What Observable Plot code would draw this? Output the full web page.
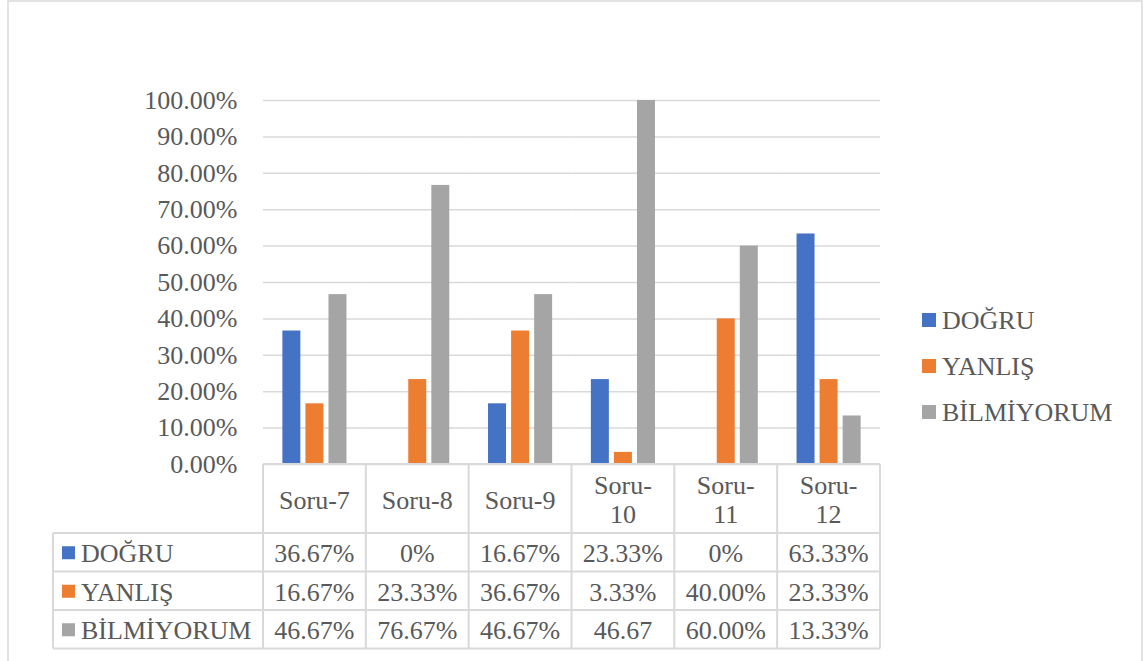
<!DOCTYPE html>
<html><head><meta charset="utf-8">
<script src="https://cdn.jsdelivr.net/npm/d3@7"></script>
<script src="https://cdn.jsdelivr.net/npm/@observablehq/plot@0.6"></script>
<style>body{margin:0;background:#fff;}</style>
</head><body><div id="chart"></div>
<script>
const categories = ["Soru-7","Soru-8","Soru-9","Soru-10","Soru-11","Soru-12"];
const headerLines = [["Soru-7"],["Soru-8"],["Soru-9"],["Soru-","10"],["Soru-","11"],["Soru-","12"]];
const series = ["DOĞRU","YANLIŞ","BİLMİYORUM"];
const colors = ["#4472C4","#ED7D31","#A5A5A5"];
const dogru = [0.3667,0,0.1667,0.2333,0,0.6333];
const yanlis = [0.1667,0.2333,0.3667,0.0333,0.40,0.2333];
const bilmiyorum = [0.4667,0.7667,0.4667,46.67,0.60,0.1333];
const dogruLabels = ["36.67%","0%","16.67%","23.33%","0%","63.33%"];
const yanlisLabels = ["16.67%","23.33%","36.67%","3.33%","40.00%","23.33%"];
const bilmiyorumLabels = ["46.67%","76.67%","46.67%","46.67","60.00%","13.33%"];
const yTicks = [0,0.1,0.2,0.3,0.4,0.5,0.6,0.7,0.8,0.9,1.0];

const seriesValues = [dogru, yanlis, bilmiyorum];
const seriesLabels = [dogruLabels, yanlisLabels, bilmiyorumLabels];
const rows = [];
categories.forEach((c,i)=>series.forEach((s,j)=>rows.push({cat:c, series:s, value:seriesValues[j][i]})));

const FONT = "'Liberation Serif','Times New Roman',serif";
const FS = 26;
const TXT = "#595959";
const LINE = "#d9d9d9";

const plot = Plot.plot({
  width:1143, height:661,
  marginLeft:263, marginRight:263, marginTop:100, marginBottom:197,
  style:{fontFamily:FONT, fontSize:FS+"px", color:TXT, background:"#fff", overflow:"visible"},
  fx:{domain:categories, padding:0, axis:null, round:false},
  x:{domain:series, paddingInner:0.22, paddingOuter:0.84, axis:null, round:false},
  y:{domain:[0,1], label:null},
  color:{domain:series, range:colors},
  marks:[
    Plot.gridY(yTicks,{stroke:LINE, strokeOpacity:1, strokeWidth:1.5}),
    Plot.axisY(yTicks,{tickFormat:d3.format(".2%"), tickSize:0, tickPadding:26, fontSize:FS, label:null}),
    Plot.barY(rows,{fx:"cat", x:"series", y:"value", fill:"series", clip:true})
  ]
});
document.getElementById("chart").appendChild(plot);

const svg = d3.select(plot);
const fx = plot.scale("fx");
const ys = plot.scale("y");
const colorScale = plot.scale("color");
const bw = fx.bandwidth;
const lefts = categories.map(c=>fx.apply(c));
const tableTop = ys.apply(0);
const tableLeft = 53;
const plotLeft = lefts[0];
const plotRight = lefts[lefts.length-1] + bw;
const headerH = 69, rowH = 38.5;
const headerBottom = tableTop + headerH;
const rowTops = series.map((s,j)=>headerBottom + j*rowH);
const tableBottom = headerBottom + series.length*rowH;

const g = svg.append("g").attr("font-family", FONT).attr("font-size", FS).attr("fill", TXT);
// outer border
g.append("rect").attr("x",8).attr("y",1).attr("width",1134).attr("height",680)
  .attr("fill","none").attr("stroke",LINE).attr("stroke-width",1.5);
// horizontal lines
g.append("line").attr("x1",plotLeft).attr("x2",plotRight).attr("y1",tableTop).attr("y2",tableTop).attr("stroke",LINE).attr("stroke-width",2);
[headerBottom, ...rowTops.slice(1), tableBottom].forEach(yv=>{
  g.append("line").attr("x1",tableLeft).attr("x2",plotRight).attr("y1",yv).attr("y2",yv).attr("stroke",LINE).attr("stroke-width",2);
});
// vertical lines
g.append("line").attr("x1",tableLeft).attr("x2",tableLeft).attr("y1",headerBottom).attr("y2",tableBottom).attr("stroke",LINE).attr("stroke-width",2);
[...lefts, plotRight].forEach(xv=>{
  g.append("line").attr("x1",xv).attr("x2",xv).attr("y1",tableTop).attr("y2",tableBottom).attr("stroke",LINE).attr("stroke-width",2);
});
// header texts
categories.forEach((c,i)=>{
  const cx = lefts[i] + bw/2;
  const lines = headerLines[i];
  const mid = tableTop + headerH/2 + 1;
  lines.forEach((t,k)=>{
    const yv = lines.length===1 ? mid : mid - 15 + k*29;
    g.append("text").attr("x",cx).attr("y",yv).attr("dy","0.35em").attr("text-anchor","middle").text(t);
  });
});
// rows
series.forEach((s,j)=>{
  const cy = rowTops[j] + rowH/2 + 1;
  g.append("rect").attr("x",62).attr("y",cy-7).attr("width",13).attr("height",13).attr("fill",colorScale.apply(s));
  g.append("text").attr("x",81).attr("y",cy).attr("dy","0.35em").attr("text-anchor","start").text(s);
  categories.forEach((c,i)=>{
    g.append("text").attr("x",lefts[i]+bw/2).attr("y",cy).attr("dy","0.35em").attr("text-anchor","middle").text(seriesLabels[j][i]);
  });
});
// right legend
const legendY = [320, 366, 412];
series.forEach((s,j)=>{
  g.append("rect").attr("x",922).attr("y",legendY[j]-7).attr("width",14).attr("height",14).attr("fill",colorScale.apply(s));
  g.append("text").attr("x",942).attr("y",legendY[j]).attr("dy","0.35em").attr("text-anchor","start").text(s);
});
</script></body></html>
